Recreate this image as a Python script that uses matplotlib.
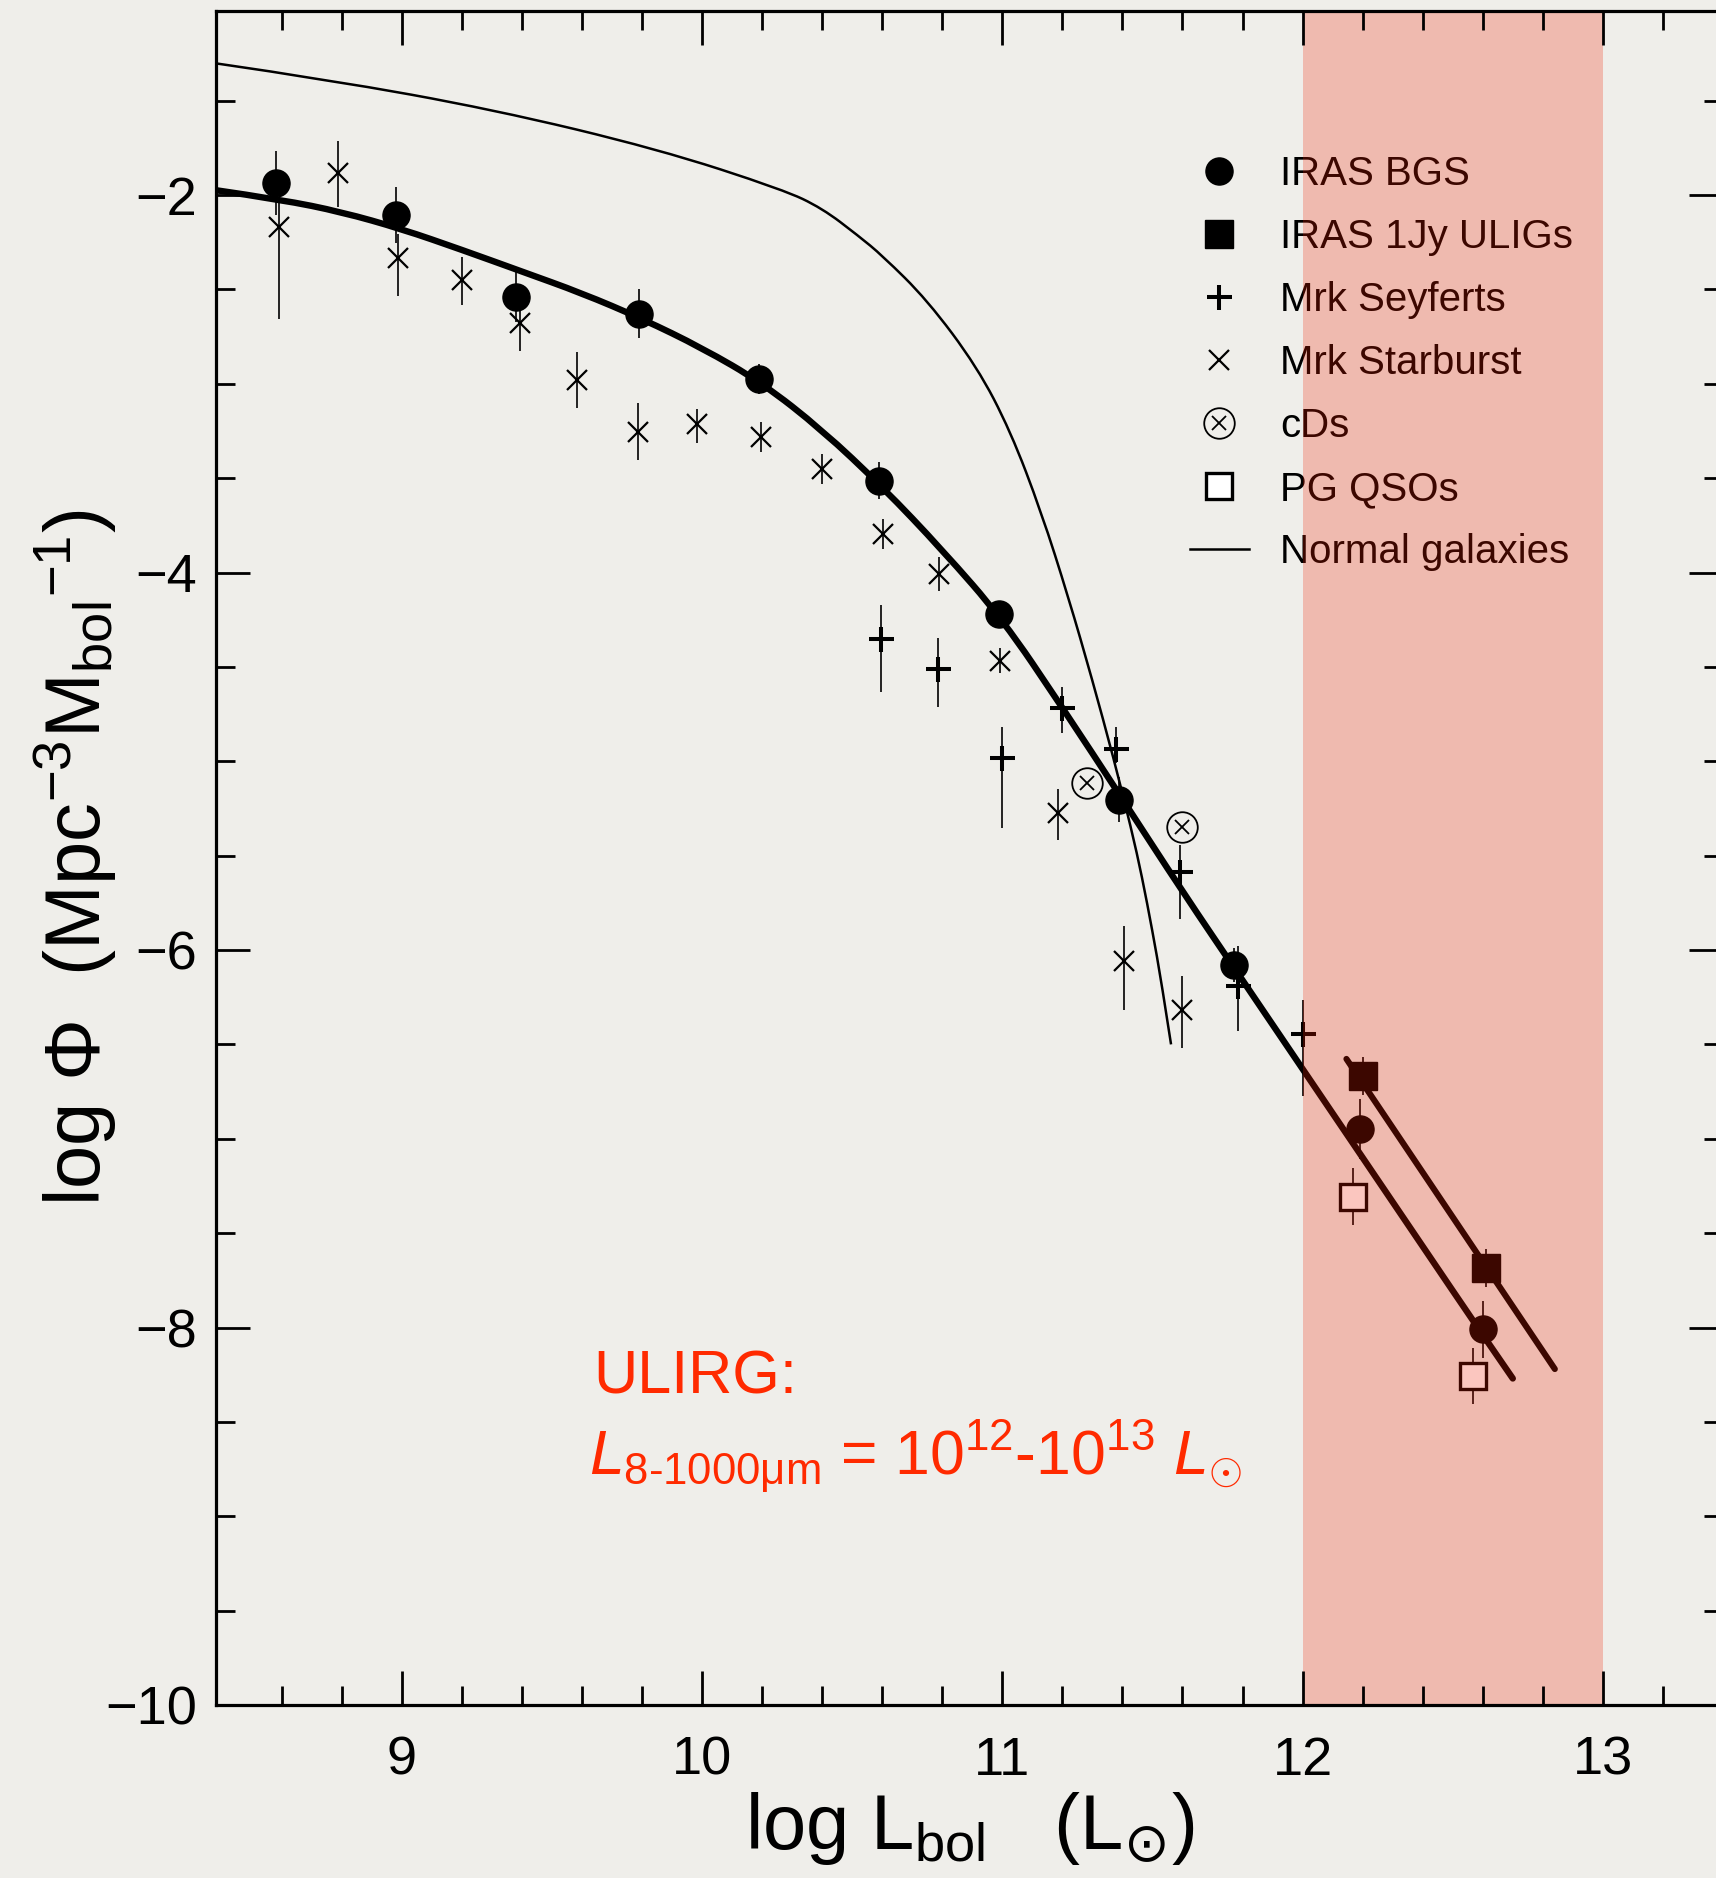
import numpy as np
import matplotlib
matplotlib.use("Agg")
import matplotlib.pyplot as plt
from matplotlib.lines import Line2D
from matplotlib.path import Path
from matplotlib.patches import PathPatch

plt.rcParams["font.family"] = ["Liberation Sans", "DejaVu Sans"]
plt.rcParams["mathtext.fontset"] = "custom"
plt.rcParams["mathtext.rm"] = "Liberation Sans"
plt.rcParams["mathtext.it"] = "Liberation Sans:italic"
plt.rcParams["mathtext.bf"] = "Liberation Sans:bold"
plt.rcParams["mathtext.sf"] = "DejaVu Sans"

PAPER = "#efeeea"
ULIRG_RED = "#ff2a00"

# ---- data ----
# IRAS BGS (filled circles)
bgs_x = [8.58, 8.98, 9.38, 9.79, 10.19, 10.59, 10.99, 11.39, 11.77, 12.19, 12.60]
bgs_y = [-1.935, -2.105, -2.54, -2.628, -2.973, -3.513, -4.219, -5.203, -6.077, -6.947, -8.01]
bgs_err = [0.17, 0.15, 0.13, 0.13, 0.08, 0.10, 0.04, 0.12, 0.09, 0.16, 0.15]

# IRAS 1Jy ULIGs (filled squares)
uli_x = [12.20, 12.61]
uli_y = [-6.668, -7.683]
uli_err = [0.10, 0.10]

# Mrk Seyferts (+)
sey_x = [10.595, 10.787, 10.999, 11.20, 11.378, 11.592, 11.786, 12.0]
sey_y = [-4.354, -4.513, -4.985, -4.72, -4.937, -5.585, -6.19, -6.445]
sey_lo = [0.28, 0.20, 0.366, 0.13, 0.07, 0.25, 0.24, 0.33]
sey_hi = [0.18, 0.164, 0.164, 0.115, 0.12, 0.14, 0.21, 0.18]

# Mrk Starburst (x)
sb_x = [8.591, 8.788, 8.988, 9.20, 9.393, 9.583, 9.788, 9.985, 10.198, 10.40,
        10.603, 10.789, 10.994, 11.185, 11.404, 11.597]
sb_y = [-2.168, -1.882, -2.335, -2.45, -2.676, -2.98, -3.254, -3.213, -3.28, -3.45,
        -3.797, -4.008, -4.467, -5.276, -6.057, -6.318]
sb_lo = [0.49, 0.18, 0.20, 0.13, 0.15, 0.15, 0.15, 0.10, 0.08, 0.08,
         0.08, 0.09, 0.065, 0.14, 0.26, 0.20]
sb_hi = [0.15, 0.17, 0.13, 0.12, 0.12, 0.15, 0.15, 0.08, 0.08, 0.08,
         0.08, 0.09, 0.065, 0.13, 0.185, 0.18]

# cDs
cd_x = [11.282, 11.60]
cd_y = [-5.117, -5.347]

# PG QSOs (open squares)
pg_x = [12.167, 12.567]
pg_y = [-7.307, -8.257]
pg_err = [0.15, 0.15]

# fit through IRAS BGS
fit_x = [8.38, 8.6, 8.8, 9.0, 9.2, 9.4, 9.6, 9.8, 10.0, 10.2, 10.4, 10.6, 10.8,
         11.0, 11.2, 11.4, 11.6, 11.8, 12.0, 12.2, 12.4, 12.6, 12.70]
fit_y = [-1.974, -2.025, -2.09, -2.18, -2.29, -2.405, -2.52, -2.655, -2.81, -2.995,
         -3.245, -3.545, -3.88, -4.245, -4.715, -5.20, -5.69, -6.16, -6.63, -7.10,
         -7.57, -8.04, -8.27]

# fit through 1Jy ULIGs
ulifit_x = [12.146, 12.84]
ulifit_y = [-6.577, -8.22]

# Normal galaxies
ng_x = [8.38, 8.757, 9.305, 9.852, 10.271, 10.40, 10.52, 10.60, 10.75, 10.916,
        11.027, 11.13, 11.22, 11.30, 11.37, 11.43, 11.465, 11.50, 11.53, 11.562]
ng_y = [-1.302, -1.389, -1.547, -1.756, -1.972, -2.07, -2.215, -2.32, -2.556, -2.91,
        -3.25, -3.68, -4.13, -4.57, -4.98, -5.36, -5.61, -5.90, -6.17, -6.50]

xmajor = [9, 10, 11, 12, 13]
ymajor = [-2, -4, -6, -8, -10]


def smooth_curve(ax, xs, ys, **kw):
    """Draw a polyline as a smooth quadratic-Bezier path through the midpoints."""
    pts = np.column_stack([xs, ys])
    verts = [pts[0]]
    codes = [Path.MOVETO]
    for i in range(1, len(pts) - 1):
        mid = (pts[i] + pts[i + 1]) / 2
        verts += [pts[i], mid if i < len(pts) - 2 else pts[i + 1]]
        codes += [Path.CURVE3, Path.CURVE3]
    if len(pts) == 2:
        verts.append(pts[1])
        codes.append(Path.LINETO)
    patch = PathPatch(Path(verts, codes), facecolor="none", **kw)
    ax.add_patch(patch)
    return patch


# ---- figure ----
W, H, DPI = 1716, 1878, 100
fig = plt.figure(figsize=(W / DPI, H / DPI), dpi=DPI, facecolor=PAPER)
ax = fig.add_axes([215.6 / W, 1 - 1705 / H, (1723 - 215.6) / W, (1705 - 11.4) / H])
ax.set_facecolor(PAPER)

smooth_curve(ax, ng_x, ng_y, edgecolor="black", lw=1.8, zorder=3)
smooth_curve(ax, fit_x, fit_y, edgecolor="black", lw=4.6, zorder=3, capstyle="round")
ax.plot(ulifit_x, ulifit_y, color="black", lw=4.4, zorder=3, solid_capstyle="round")

ax.errorbar(sb_x, sb_y, yerr=[sb_lo, sb_hi], fmt="x", color="black", ms=14,
            mew=1.6, elinewidth=1.2, capsize=0, zorder=4)
ax.errorbar(sey_x, sey_y, yerr=[sey_lo, sey_hi], fmt="+", color="black", ms=18,
            mew=2.9, elinewidth=1.2, capsize=0, zorder=4)
ax.errorbar(bgs_x, bgs_y, yerr=bgs_err, fmt="o", color="black", ms=19.5,
            elinewidth=1.2, capsize=0, zorder=5)
ax.errorbar(uli_x, uli_y, yerr=uli_err, fmt="s", color="black", ms=20.5,
            elinewidth=1.2, capsize=0, zorder=5)
ax.errorbar(pg_x, pg_y, yerr=pg_err, fmt="s", color="black", mfc="white",
            mec="black", ms=18.5, mew=2.4, elinewidth=1.2, capsize=0, zorder=5)
ax.plot(cd_x, cd_y, "o", ms=22, mfc="none", mec="black", mew=1.3, zorder=5)
ax.plot(cd_x, cd_y, "x", ms=10.5, color="black", mew=1.3, zorder=5)

# ULIRG band, laid over everything like a transparent overlay
ax.axvspan(12, 13, facecolor=(0.94, 0.12, 0.0), alpha=0.25, lw=0, zorder=20)

ax.text(9.638, -8.352, "ULIRG:", color=ULIRG_RED, fontsize=44, va="baseline")
ax.text(9.624, -8.776,
        r"$L_{\mathrm{8\text{-}1000μm}}$ = 10$^{12}$-10$^{13}$ $L_{\odot}$",
        color=ULIRG_RED, fontsize=45, va="baseline")

# legend
handles = [
    Line2D([], [], ls="none", marker="o", color="black", ms=19.5),
    Line2D([], [], ls="none", marker="s", color="black", ms=20.5),
    Line2D([], [], ls="none", marker="+", color="black", ms=18, mew=2.9),
    Line2D([], [], ls="none", marker="x", color="black", ms=14, mew=1.6),
    (Line2D([], [], ls="none", marker="o", ms=22, mfc="none", mec="black", mew=1.3),
     Line2D([], [], ls="none", marker="x", ms=10.5, color="black", mew=1.3)),
    Line2D([], [], ls="none", marker="s", mfc="white", mec="black", ms=18.5, mew=2.4),
    Line2D([], [], color="black", lw=1.8),
]
labels = ["IRAS BGS", "IRAS 1Jy ULIGs", "Mrk Seyferts", "Mrk Starburst", "cDs",
          "PG QSOs", "Normal galaxies"]
leg = ax.legend(handles, labels, loc="upper left", bbox_to_anchor=(1190 / W, 1 - 155 / H),
                bbox_transform=fig.transFigure, frameon=False, fontsize=29,
                handlelength=1.46, handletextpad=0.78, labelspacing=0.62,
                borderpad=0, borderaxespad=0, numpoints=1)
leg.set_zorder(6)

# axes
ax.set_xlim(8.3803, 13.392)
ax.set_ylim(-10, -1.027)
ax.set_xticks(xmajor)
ax.set_yticks(ymajor)
ax.set_xticks(np.arange(8.6, 13.4, 0.2), minor=True)
ax.set_yticks(np.arange(-10, -1.0, 0.5), minor=True)
ax.tick_params(which="both", direction="in", top=True, right=True, width=2.0)
ax.tick_params(which="major", length=24.5)
ax.tick_params(which="minor", length=13.7)
ax.tick_params(axis="x", which="major", labelsize=39, pad=22)
ax.tick_params(axis="y", which="major", labelsize=39, pad=13)
for sp in ax.spines.values():
    sp.set_linewidth(2.3)
    sp.set_zorder(30)
ax.xaxis.set_zorder(30)
ax.yaxis.set_zorder(30)

ax.set_xlabel(r"log L$_{\mathrm{bol}}$   (L$_{\mathsf{⊙}}$)", fontsize=56)
ax.xaxis.set_label_coords(0.5, -0.05)
ax.set_ylabel(r"log $\Phi$  (Mpc$^{-3}$M$_{\mathrm{bol}}$$^{-1}$)", fontsize=56)
ax.yaxis.set_label_coords(-0.064, 0.5)

fig.savefig("out.png", dpi=DPI, facecolor=PAPER)
